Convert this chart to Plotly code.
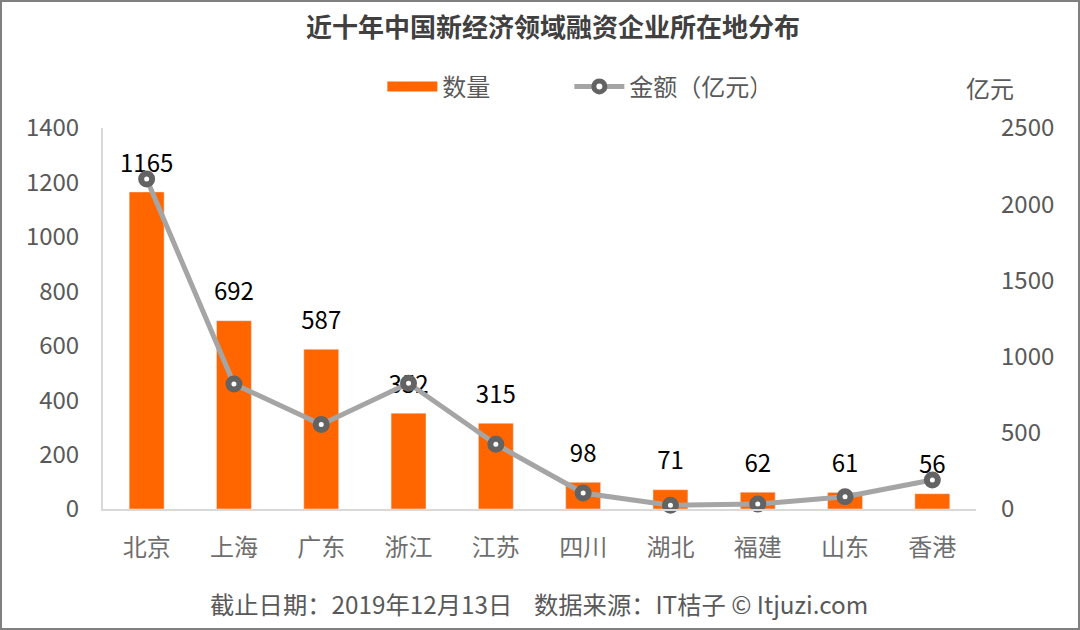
import plotly.graph_objects as go

categories = ["北京","上海","广东","浙江","江苏","四川","湖北","福建","山东","香港"]
counts = [1165,692,587,352,315,98,71,62,61,56]
amounts = [2165,820,555,825,425,105,25,32,80,190]

FONT = "Noto Sans CJK SC"
MARK = dict(size=11, color="white", symbol="circle", line=dict(color="#636363", width=6))
labels = [f"<span style='font-size:24px'>{v}</span><br> " for v in counts]

fig = go.Figure()
fig.add_bar(x=categories, y=counts, name="数量", marker_color="#FF6600", width=0.4,
            text=labels, textposition="outside", constraintext="none", textangle=0,
            textfont=dict(size=11, color="#000000"), cliponaxis=False, yaxis="y", showlegend=False)
fig.add_scatter(x=[None], y=[None], name="数量", mode="lines",
                line=dict(color="#FF6600", width=14), yaxis="y")
fig.add_scatter(x=categories, y=amounts, name="金额（亿元）", yaxis="y2", mode="lines+markers",
                line=dict(color="#A5A5A5", width=5), marker=MARK, cliponaxis=False)
fig.update_layout(
    width=1080, height=630, margin=dict(l=103, r=104, t=128, b=121, autoexpand=False),
    paper_bgcolor="white", plot_bgcolor="white",
    font=dict(family=FONT, size=24, color="#595959"),
    title=dict(text="<b>近十年中国新经济领域融资企业所在地分布</b>", x=0.512, xanchor="center",
               y=0.955, yanchor="middle", font=dict(size=26, color="#404040")),
    legend=dict(orientation="h", x=0.320, xanchor="left", y=1.108, yanchor="middle",
                font=dict(size=24, color="#595959"), itemwidth=50, traceorder="normal",
                entrywidth=122, entrywidthmode="pixels"),
    xaxis=dict(range=[-0.5,9.5], showline=True, linecolor="#D9D9D9", linewidth=2, ticks="",
               ticklabelstandoff=16, tickfont=dict(size=24, color="#6E6E6E"), automargin=False),
    yaxis=dict(range=[0,1400], dtick=200, showgrid=False, showline=True, linecolor="#D9D9D9",
               linewidth=2, ticks="", ticklabelstandoff=17, tickfont=dict(size=24),
               zeroline=False, automargin=False),
    yaxis2=dict(range=[0,2500], dtick=500, overlaying="y", side="right", showgrid=False,
                showline=False, ticks="", ticklabelstandoff=24, tickfont=dict(size=24),
                zeroline=False, automargin=False),
    annotations=[
        dict(text="亿元", xref="paper", yref="paper", x=990, y=88, xanchor="center", yanchor="middle",
             showarrow=False, font=dict(size=24, color="#595959")),
        dict(text="截止日期：2019年12月13日    数据来源：IT桔子 © Itjuzi.com", xref="paper", yref="paper",
             x=538.5, xanchor="center", y=603, yanchor="middle", showarrow=False,
             font=dict(size=24.3, color="#595959")),
    ],
    shapes=[dict(type="rect", xref="paper", yref="paper", x0=1, x1=1079, y0=1, y1=629,
                 line=dict(color="#808080", width=2), fillcolor="rgba(0,0,0,0)")],
)
# pixel positions -> paper fractions
W = 1080 - 103 - 104
H = 630 - 128 - 121
for a in fig.layout.annotations:
    a.x = (a.x - 103) / W
    a.y = (630 - 121 - a.y) / H
s = fig.layout.shapes[0]
s.x0, s.x1 = (s.x0 - 103) / W, (s.x1 - 103) / W
s.y0, s.y1 = (630 - 121 - s.y0) / H, (630 - 121 - s.y1) / H
fig.write_html("out.html", config=dict(displayModeBar=False),
               post_script="document.body.style.margin='0';window.dispatchEvent(new Event('resize'));")
